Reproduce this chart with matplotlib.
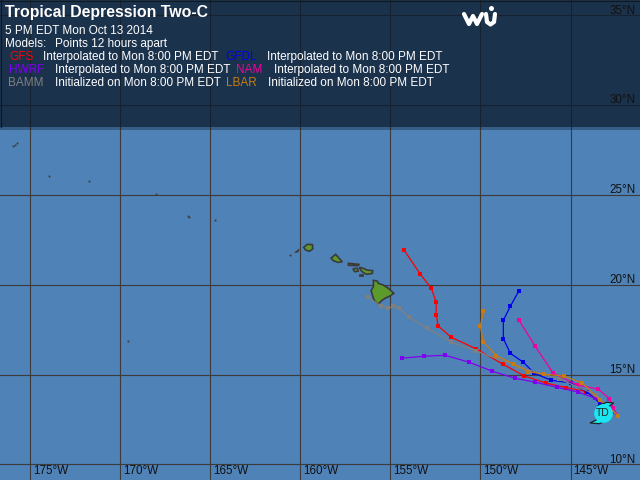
import matplotlib
matplotlib.use("Agg")
import matplotlib.pyplot as plt
from matplotlib.lines import Line2D
from matplotlib.patches import Polygon, Rectangle

plt.rcParams["font.family"] = ["Liberation Sans", "DejaVu Sans"]

# model tracks, lon / lat
gfs_lon = [-154.23, -153.34, -152.73, -152.46, -152.46, -152.34, -151.62, -150.23, -148.73, -147.57, -146.34, -145.23, -144.12, -142.36]
gfs_lat = [21.91, 20.58, 19.80, 19.02, 18.30, 17.69, 17.07, 16.42, 15.56, 14.92, 14.52, 14.27, 14.05, 12.70]
gfdl_lon = [-147.86, -148.34, -148.73, -148.73, -148.34, -147.62, -147.01, -146.07, -144.96, -144.07, -143.36, -142.36]
gfdl_lat = [19.67, 18.80, 18.02, 17.00, 16.18, 15.68, 15.07, 14.68, 14.53, 14.02, 13.40, 12.70]
nam_lon = [-147.86, -146.96, -145.96, -144.62, -143.46, -142.84, -142.62, -142.36]
nam_lat = [18.02, 16.57, 15.07, 14.42, 14.18, 13.66, 13.13, 12.70]
hwrf_lon = [-154.34, -153.12, -151.96, -150.62, -149.34, -148.07, -146.96, -145.73, -144.57, -143.62, -142.36]
hwrf_lat = [15.91, 16.02, 16.07, 15.68, 15.18, 14.79, 14.57, 14.29, 14.02, 13.68, 12.70]
bamm_lon = [-156.23, -155.51, -155.12, -154.84, -154.51, -153.96, -152.96, -151.62, -150.23, -147.90, -145.64, -143.58, -142.36]
bamm_lat = [19.30, 18.80, 18.69, 18.80, 18.69, 18.19, 17.58, 16.80, 16.30, 15.44, 14.76, 13.87, 12.70]
lbar_lon = [-149.84, -150.01, -149.84, -149.12, -148.12, -147.34, -146.46, -145.34, -144.34, -143.34, -142.34]
lbar_lat = [18.52, 17.69, 16.80, 16.05, 15.56, 15.16, 15.02, 14.91, 14.52, 13.57, 12.68]

model_names = ["GFS", "GFDL", "HWRF", "NAM", "BAMM", "LBAR"]
model_colors = ["#ff0000", "#0000f0", "#8000f0", "#f000a0", "#808080", "#c87a14"]

lon_ticks = [-175, -170, -165, -160, -155, -150, -145]
lat_ticks = [10, 15, 20, 25, 30, 35]
lon_labels = ["175°W", "170°W", "165°W", "160°W", "155°W", "150°W", "145°W"]
lat_labels = ["10°N", "15°N", "20°N", "25°N", "30°N", "35°N"]

storm_lon = -143.21
storm_lat = 12.85
storm_top_arm = [(-143.5, 13.25), (-143.0, 13.45), (-142.6, 13.42), (-142.9, 13.2), (-143.2, 13.15)]
storm_low_arm = [(-142.95, 12.45), (-143.4, 12.26), (-143.92, 12.30), (-143.55, 12.48), (-143.45, 12.7)]

# main islands
big_island = [(-155.95, 20.24), (-155.73, 20.20), (-155.68, 20.08), (-155.40, 19.98), (-155.12, 19.80), (-154.82, 19.52), (-155.03, 19.37),
              (-155.31, 19.24), (-155.49, 19.11), (-155.68, 18.93), (-155.86, 19.06), (-155.95, 19.24), (-156.08, 19.67), (-155.95, 19.89)]
maui = [(-156.73, 20.97), (-156.51, 20.91), (-156.32, 20.82), (-155.99, 20.78), (-156.01, 20.63), (-156.32, 20.58), (-156.51, 20.67), (-156.66, 20.82)]
molokai = [(-157.34, 21.19), (-156.73, 21.13), (-156.84, 21.06), (-157.34, 21.08)]
lanai = [(-157.06, 20.89), (-156.84, 20.91), (-156.80, 20.76), (-156.97, 20.72), (-157.06, 20.82)]
oahu = [(-158.30, 21.48), (-158.05, 21.69), (-157.90, 21.52), (-157.68, 21.28), (-157.90, 21.24), (-158.18, 21.34)]
kauai = [(-159.82, 22.08), (-159.62, 22.25), (-159.34, 22.23), (-159.32, 21.99), (-159.51, 21.86), (-159.71, 21.93)]
niihau = [(-160.32, 21.78), (-160.08, 21.99), (-160.12, 21.83)]
kahoolawe = [(-156.75, 20.57), (-156.54, 20.57), (-156.54, 20.51), (-156.75, 20.51)]
islands = [big_island, maui, molokai, lanai, oahu, kauai]
dark_islands = [niihau, kahoolawe]

# tiny bits of land, only the outline shows
islet_lon = [-175.86, -175.73, -175.95, -173.97, -171.75, -168.01, -166.25, -166.18, -164.73, -169.60, -160.58]
islet_lat = [27.77, 27.90, 27.75, 26.06, 25.77, 25.03, 23.82, 23.75, 23.58, 16.87, 21.67]

rows = [
    ("GFS", 9, 43, 57, "Interpolated to Mon 8:00 PM EDT"),
    ("GFDL", 225, 267, 57, "Interpolated to Mon 8:00 PM EDT"),
    ("HWRF", 9, 55, 70, "Interpolated to Mon 8:00 PM EDT"),
    ("NAM", 236, 274, 70, "Interpolated to Mon 8:00 PM EDT"),
    ("BAMM", 8, 55, 83, "Initialized on Mon 8:00 PM EDT"),
    ("LBAR", 226, 268, 83, "Initialized on Mon 8:00 PM EDT"),
]

# logo strokes in pixels from the top left corner
logo_w_x = [464, 469, 473, 477, 482]
logo_w_y = [14, 24, 16, 24, 14]
logo_u_x = [486, 487, 490.5, 494, 495]
logo_u_y = [14, 22, 24.5, 22, 14]
logo_drop = (490.7, 8)

OCEAN = "#4f82b6"
GRID = "#3c3a3a"
LAND = "#5c9a2c"
CYAN = "#19e6f0"

fig = plt.figure(figsize=(6.4, 4.8), dpi=100)
ax = fig.add_axes([0, 0, 1, 1])
ax.set_xlim(-176.694, -141.139)
ax.set_ylim(9.126, 35.852)
ax.set_facecolor(OCEAN)
ax.set_xticks([])
ax.set_yticks([])
for spine in ax.spines.values():
    spine.set_visible(False)

for lon in lon_ticks:
    ax.axvline(lon, color=GRID, lw=0.8, zorder=2)
for lat in lat_ticks:
    ax.axhline(lat, color=GRID, lw=0.8, zorder=2)

for pts in islands:
    ax.add_patch(Polygon(pts, closed=True, fc=LAND, ec=GRID, lw=1.2, zorder=3))
for pts in dark_islands:
    ax.add_patch(Polygon(pts, closed=True, fc=GRID, ec=GRID, lw=0.5, zorder=3))
ax.plot(islet_lon, islet_lat, ls="none", marker="s", ms=1.3, mew=0, color=GRID, zorder=3)

tracks = [(gfs_lon, gfs_lat), (gfdl_lon, gfdl_lat), (hwrf_lon, hwrf_lat), (nam_lon, nam_lat), (bamm_lon, bamm_lat), (lbar_lon, lbar_lat)]
for name, color, (xs, ys) in zip(model_names, model_colors, tracks):
    ax.plot(xs, ys, color=color, lw=0.9, marker="s", ms=3.2, mew=0, zorder=4)

# dark band across the top of the map, soft lower edge
ax.add_patch(Rectangle((0, 0.7354), 1, 0.2646, transform=ax.transAxes, fc="#0d1c2e", ec="none", alpha=0.78, zorder=5))
ax.add_patch(Rectangle((0, 0.7292), 1, 0.0062, transform=ax.transAxes, fc="#0d1c2e", ec="none", alpha=0.35, zorder=5))
ax.axhline(35.82, color="#101820", lw=0.8, zorder=6)
ax.plot([0.001, 0.001], [0.7354, 1], transform=ax.transAxes, color="#101820", lw=0.8, zorder=6)

# storm symbol
for arm in (storm_top_arm, storm_low_arm):
    ax.add_patch(Polygon(arm, closed=True, fc=CYAN, ec="#222222", lw=0.9, zorder=6))
ax.plot([storm_lon], [storm_lat], marker="o", ms=13.5, mfc=CYAN, mec=CYAN, mew=0, zorder=7)
ax.text(storm_lon, storm_lat - 0.02, "TD", color="#222222", fontsize=7.4, ha="center", va="center", zorder=8)


def px_text(x, y, s, **kw):
    fig.text(x / 640, 1 - y / 480, s, va="center", zorder=9, **kw)


px_text(5, 12, "Tropical Depression Two-C", color="white", fontsize=11.4, fontweight="bold")
px_text(5, 31, "5 PM EDT Mon Oct 13 2014", color="white", fontsize=8.5)
px_text(5, 44, "Models:", color="white", fontsize=8.5)
px_text(55, 44, "Points 12 hours apart", color="white", fontsize=8.5)
for name, x_name, x_text, y, label in rows:
    color = model_colors[model_names.index(name)]
    px_text(x_name, y, name, color=color, fontsize=8.5)
    px_text(x_text, y, label, color="white", fontsize=8.5)

for lon, label in zip(lon_ticks, lon_labels):
    ax.text(lon + 0.15, 9.62, label, color="#111111", fontsize=8.4, va="center", ha="left", zorder=9)
for lat, label in zip(lat_ticks, lat_labels):
    ax.text(-141.38, lat + 0.26, label, color="#111111", fontsize=8.4, va="center", ha="right", zorder=9)

# wu logo
for xs, ys in ((logo_w_x, logo_w_y), (logo_u_x, logo_u_y)):
    fig.add_artist(Line2D([x / 640 for x in xs], [1 - y / 480 for y in ys], transform=fig.transFigure,
                          color="white", lw=3.0, solid_capstyle="round", solid_joinstyle="round"))
fig.add_artist(Line2D([logo_drop[0] / 640], [1 - logo_drop[1] / 480], transform=fig.transFigure,
                      marker="o", ms=3.6, mfc="white", mec="white", mew=0, ls="none"))

fig.savefig("out.png", dpi=100)
